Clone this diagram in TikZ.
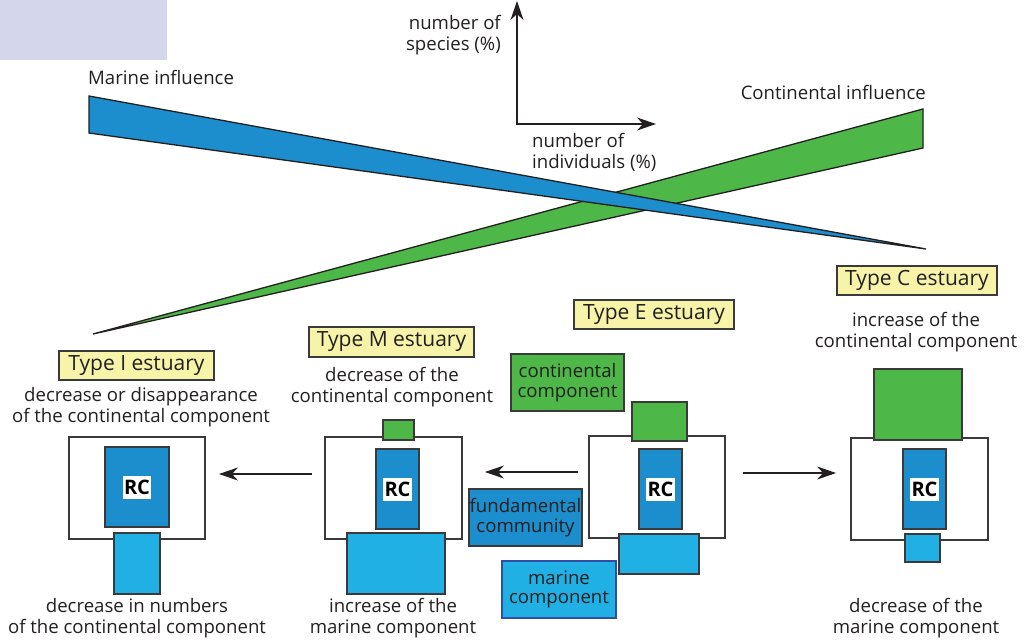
\documentclass[tikz,border=0pt]{standalone}
\usepackage{fontspec}
\setmainfont{Open Sans}
\usetikzlibrary{arrows.meta}
\definecolor{txt}{HTML}{231F20}
\definecolor{lav}{HTML}{D4D6EC}
\definecolor{rcblue}{HTML}{1C8ECD}
\definecolor{marblue}{HTML}{21B0E4}
\definecolor{grn}{HTML}{4DB848}
\definecolor{yel}{HTML}{F7F4A9}
\definecolor{edge}{HTML}{3A3A3A}
\definecolor{dkblue}{HTML}{2D4FA6}
\begin{document}
\begin{tikzpicture}[x=1pt,y=-1pt,
  every node/.style={text=txt},
  lbl/.style={font=\fontsize{18.6}{21}\selectfont, align=center, inner sep=0pt},
  typebox/.style={draw=edge, line width=1.2pt, fill=yel, inner sep=0pt, font=\fontsize{21}{24}\selectfont},
  frame/.style={draw=edge, line width=1.8pt, fill=white, inner sep=0pt},
  rcbox/.style={draw=edge, line width=1.4pt, fill=rcblue, inner sep=0pt},
  cbox/.style={draw=edge, line width=1.4pt, fill=grn, inner sep=0pt},
  mbox/.style={draw=edge, line width=1.4pt, fill=marblue, inner sep=0pt},
  rclab/.style={fill=white, text=black, inner xsep=1.5pt, inner ysep=0pt, minimum height=23pt, font=\fontsize{20}{22}\selectfont\bfseries},
  legend/.style={line width=1.4pt, inner sep=0pt, align=center, font=\fontsize{18.6}{19.5}\selectfont, minimum width=113pt, minimum height=57pt},
  tip/.style={Stealth[length=19pt,width=13pt,inset=6pt]},
  arr/.style={-{Stealth[length=19pt,width=13pt,inset=6pt]}, line width=1.5pt, draw=txt},
  wedge/.style={draw=txt, line width=1.3pt, line join=miter}
]
\useasboundingbox (0,0) rectangle (1028,643);
\fill[lav] (0,0) rectangle (167,60);

% wedges
\coordinate (g1) at (93,334);
\coordinate (g2) at (923,109);
\coordinate (g3) at (923,148);
\coordinate (b1) at (89,96);
\coordinate (b2) at (89,133);
\coordinate (b3) at (926,249);
\filldraw[wedge, fill=grn] (g1) -- (g2) -- (g3) -- cycle;
\filldraw[wedge, fill=rcblue] (b1) -- (b3) -- (b2) -- cycle;

\node[lbl, anchor=west] (mi) at (88,77) {Marine influence};
\node[lbl, anchor=east] (ci) at (926,92) {Continental influence};

% axes
\coordinate (ytip) at (517,1);
\coordinate (orig) at (517,124);
\coordinate (xtip) at (656,124);
\draw[line width=1.5pt, draw=txt, {Stealth[length=19pt,width=13pt,inset=6pt]}-{Stealth[length=19pt,width=13pt,inset=6pt]}] (ytip) -- (orig) -- (xtip);
\node[lbl, align=right, anchor=east] (ys) at (501,35) {number of\\species (\%)};
\node[lbl, align=left, anchor=west] (xs) at (532,152.5) {number of\\individuals (\%)};

% type labels
\node[typebox, minimum width=155pt, minimum height=29pt] (tI) at (136.5,365.5) {Type I estuary};
\node[typebox, minimum width=165pt, minimum height=30pt] (tM) at (391.5,342) {Type M estuary};
\node[typebox, minimum width=160pt, minimum height=29pt] (tE) at (654,314.5) {Type E estuary};
\node[typebox, minimum width=160pt, minimum height=29pt] (tC) at (917,280.5) {Type C estuary};

% descriptions
\node[lbl] (dI) at (141,407.5) {decrease or disappearance\\of the continental component};
\node[lbl] (dM) at (392,387.5) {decrease of the\\continental component};
\node[lbl] (dC) at (916,332) {increase of the\\continental component};
\node[lbl] (lI) at (137,618) {decrease in numbers\\of the continental component};
\node[lbl] (lM) at (393,618) {increase of the\\marine component};
\node[lbl] (lC) at (916,618) {decrease of the\\marine component};

% frames
\node[frame, minimum width=136pt, minimum height=102pt] (fI) at (137,488) {};
\node[frame, minimum width=137pt, minimum height=102pt] (fM) at (393.5,488) {};
\node[frame, minimum width=136pt, minimum height=102pt] (fE) at (657,487) {};
\node[frame, minimum width=137pt, minimum height=102pt] (fC) at (919.5,489) {};

% continental components
\node[cbox, minimum width=31pt, minimum height=20pt] (cM) at (398.5,430) {};
\node[cbox, minimum width=55pt, minimum height=39pt] (cE) at (659.5,421.5) {};
\node[cbox, minimum width=88pt, minimum height=71pt] (cC) at (918,404.5) {};

% marine components
\node[mbox, minimum width=46pt, minimum height=61pt] (mI) at (137,563.5) {};
\node[mbox, minimum width=98pt, minimum height=61pt] (mM) at (396,563.5) {};
\node[mbox, minimum width=80pt, minimum height=40pt] (mE) at (659,554) {};
\node[mbox, minimum width=35pt, minimum height=28pt] (mC) at (922.5,548) {};

% RC
\node[rcbox, minimum width=64pt, minimum height=80pt] (rI) at (137,487) {};
\node[rcbox, minimum width=43pt, minimum height=80pt] (rM) at (397.5,489) {};
\node[rcbox, minimum width=43pt, minimum height=80pt] (rE) at (660.5,489) {};
\node[rcbox, minimum width=43pt, minimum height=80pt] (rC) at (924.5,489) {};
\node[rclab] (rIl) at (rI) {RC};
\node[rclab] (rMl) at (rM) {RC};
\node[rclab] (rEl) at (rE) {RC};
\node[rclab] (rCl) at (rC) {RC};

% legend boxes
\node[legend, draw=edge, fill=grn] (lc) at (567.5,382.5) {continental\\component};
\node[legend, draw=edge, fill=rcblue] (lf) at (525.5,517.5) {fundamental\\community};
\node[legend, draw=dkblue, fill=marblue, minimum width=114pt] (lm) at (559,589.5) {marine\\component};

% arrows
\draw[arr] ([shift={(-10,-15)}]fE.west) -- ([shift={(22,-16)}]fM.east);
\draw[arr] ([shift={(-12,-14)}]fM.west) -- ([shift={(13,-14)}]fI.east);
\draw[arr] ([shift={(17,-14)}]fE.east) -- ([shift={(-14,-16)}]fC.west);
\end{tikzpicture}
\end{document}
